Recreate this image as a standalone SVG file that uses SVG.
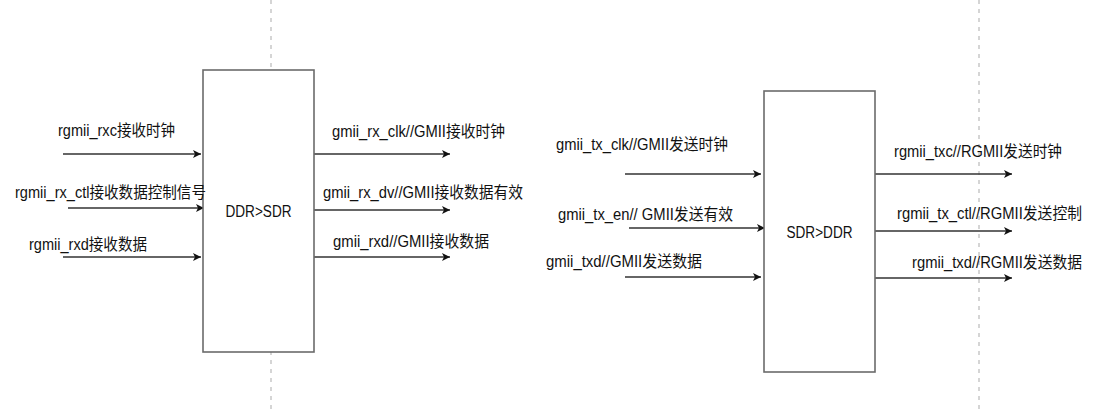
<svg xmlns="http://www.w3.org/2000/svg" width="1102" height="409" viewBox="0 0 1102 409">
  <defs>
    <marker id="arr" markerUnits="userSpaceOnUse" markerWidth="9" markerHeight="9" refX="8" refY="4.5" orient="auto">
      <path d="M0,0.5 L8,4.5 L0,8.5 L2,4.5 Z" fill="#111"/>
    </marker>
    <style>
      .guide { stroke: #c8c8c8; stroke-width: 1.5; stroke-dasharray: 4 5; fill: none; }
      .box { fill: #fff; stroke: #6b6b6b; stroke-width: 1.6; }
      .wire { stroke: #333; stroke-width: 1.4; fill: none; marker-end: url(#arr); }
      .lbl { font-family: "Liberation Sans", "Noto Sans CJK SC", sans-serif; font-size: 16px; fill: #111; }
      .mid { text-anchor: middle; }
    </style>
  </defs>
  <rect width="1102" height="409" fill="#fff"/>
  <g id="guides">
    <line class="guide" x1="271" y1="0" x2="271" y2="409"/>
    <line class="guide" x1="979" y1="0" x2="979" y2="409"/>
  </g>
  <g id="connectors">
    <line class="wire" x1="63" y1="154" x2="201" y2="154"/>
    <line class="wire" x1="68" y1="208" x2="204" y2="208"/>
    <line class="wire" x1="63" y1="257" x2="201" y2="257"/>
    <line class="wire" x1="314" y1="154" x2="450" y2="154"/>
    <line class="wire" x1="314" y1="210" x2="450" y2="210"/>
    <line class="wire" x1="314" y1="257" x2="450" y2="257"/>
    <line class="wire" x1="625" y1="174" x2="761" y2="174"/>
    <line class="wire" x1="629" y1="228" x2="765" y2="228"/>
    <line class="wire" x1="625" y1="277" x2="761" y2="277"/>
    <line class="wire" x1="875" y1="174" x2="1012" y2="174"/>
    <line class="wire" x1="875" y1="231" x2="1012" y2="231"/>
    <line class="wire" x1="875" y1="278" x2="1012" y2="278"/>
  </g>
  <g id="ddr2sdr">
    <rect class="box" x="203" y="70" width="111" height="282"/>
    <text class="lbl mid" x="258.5" y="217" textLength="66" lengthAdjust="spacingAndGlyphs">DDR&gt;SDR</text>
  </g>
  <g id="sdr2ddr">
    <rect class="box" x="764" y="91" width="111" height="281"/>
    <text class="lbl mid" x="819.5" y="238" textLength="66" lengthAdjust="spacingAndGlyphs">SDR&gt;DDR</text>
  </g>
  <g id="labels">
    <text class="lbl" x="58" y="136" textLength="117" lengthAdjust="spacingAndGlyphs">rgmii_rxc接收时钟</text>
    <text class="lbl" x="15" y="198" textLength="191" lengthAdjust="spacingAndGlyphs">rgmii_rx_ctl接收数据控制信号</text>
    <text class="lbl" x="29" y="250" textLength="118" lengthAdjust="spacingAndGlyphs">rgmii_rxd接收数据</text>
    <text class="lbl" x="332" y="137" textLength="173" lengthAdjust="spacingAndGlyphs">gmii_rx_clk//GMII接收时钟</text>
    <text class="lbl" x="323" y="198" textLength="200" lengthAdjust="spacingAndGlyphs">gmii_rx_dv//GMII接收数据有效</text>
    <text class="lbl" x="333" y="247" textLength="156" lengthAdjust="spacingAndGlyphs">gmii_rxd//GMII接收数据</text>
    <text class="lbl" x="556" y="150" textLength="172" lengthAdjust="spacingAndGlyphs">gmii_tx_clk//GMII发送时钟</text>
    <text class="lbl" x="558" y="220" textLength="175" lengthAdjust="spacingAndGlyphs">gmii_tx_en// GMII发送有效</text>
    <text class="lbl" x="546" y="267" textLength="156" lengthAdjust="spacingAndGlyphs">gmii_txd//GMII发送数据</text>
    <text class="lbl" x="894" y="157" textLength="168" lengthAdjust="spacingAndGlyphs">rgmii_txc//RGMII发送时钟</text>
    <text class="lbl" x="897" y="219" textLength="185" lengthAdjust="spacingAndGlyphs">rgmii_tx_ctl//RGMII发送控制</text>
    <text class="lbl" x="912" y="268" textLength="170" lengthAdjust="spacingAndGlyphs">rgmii_txd//RGMII发送数据</text>
  </g>
</svg>
